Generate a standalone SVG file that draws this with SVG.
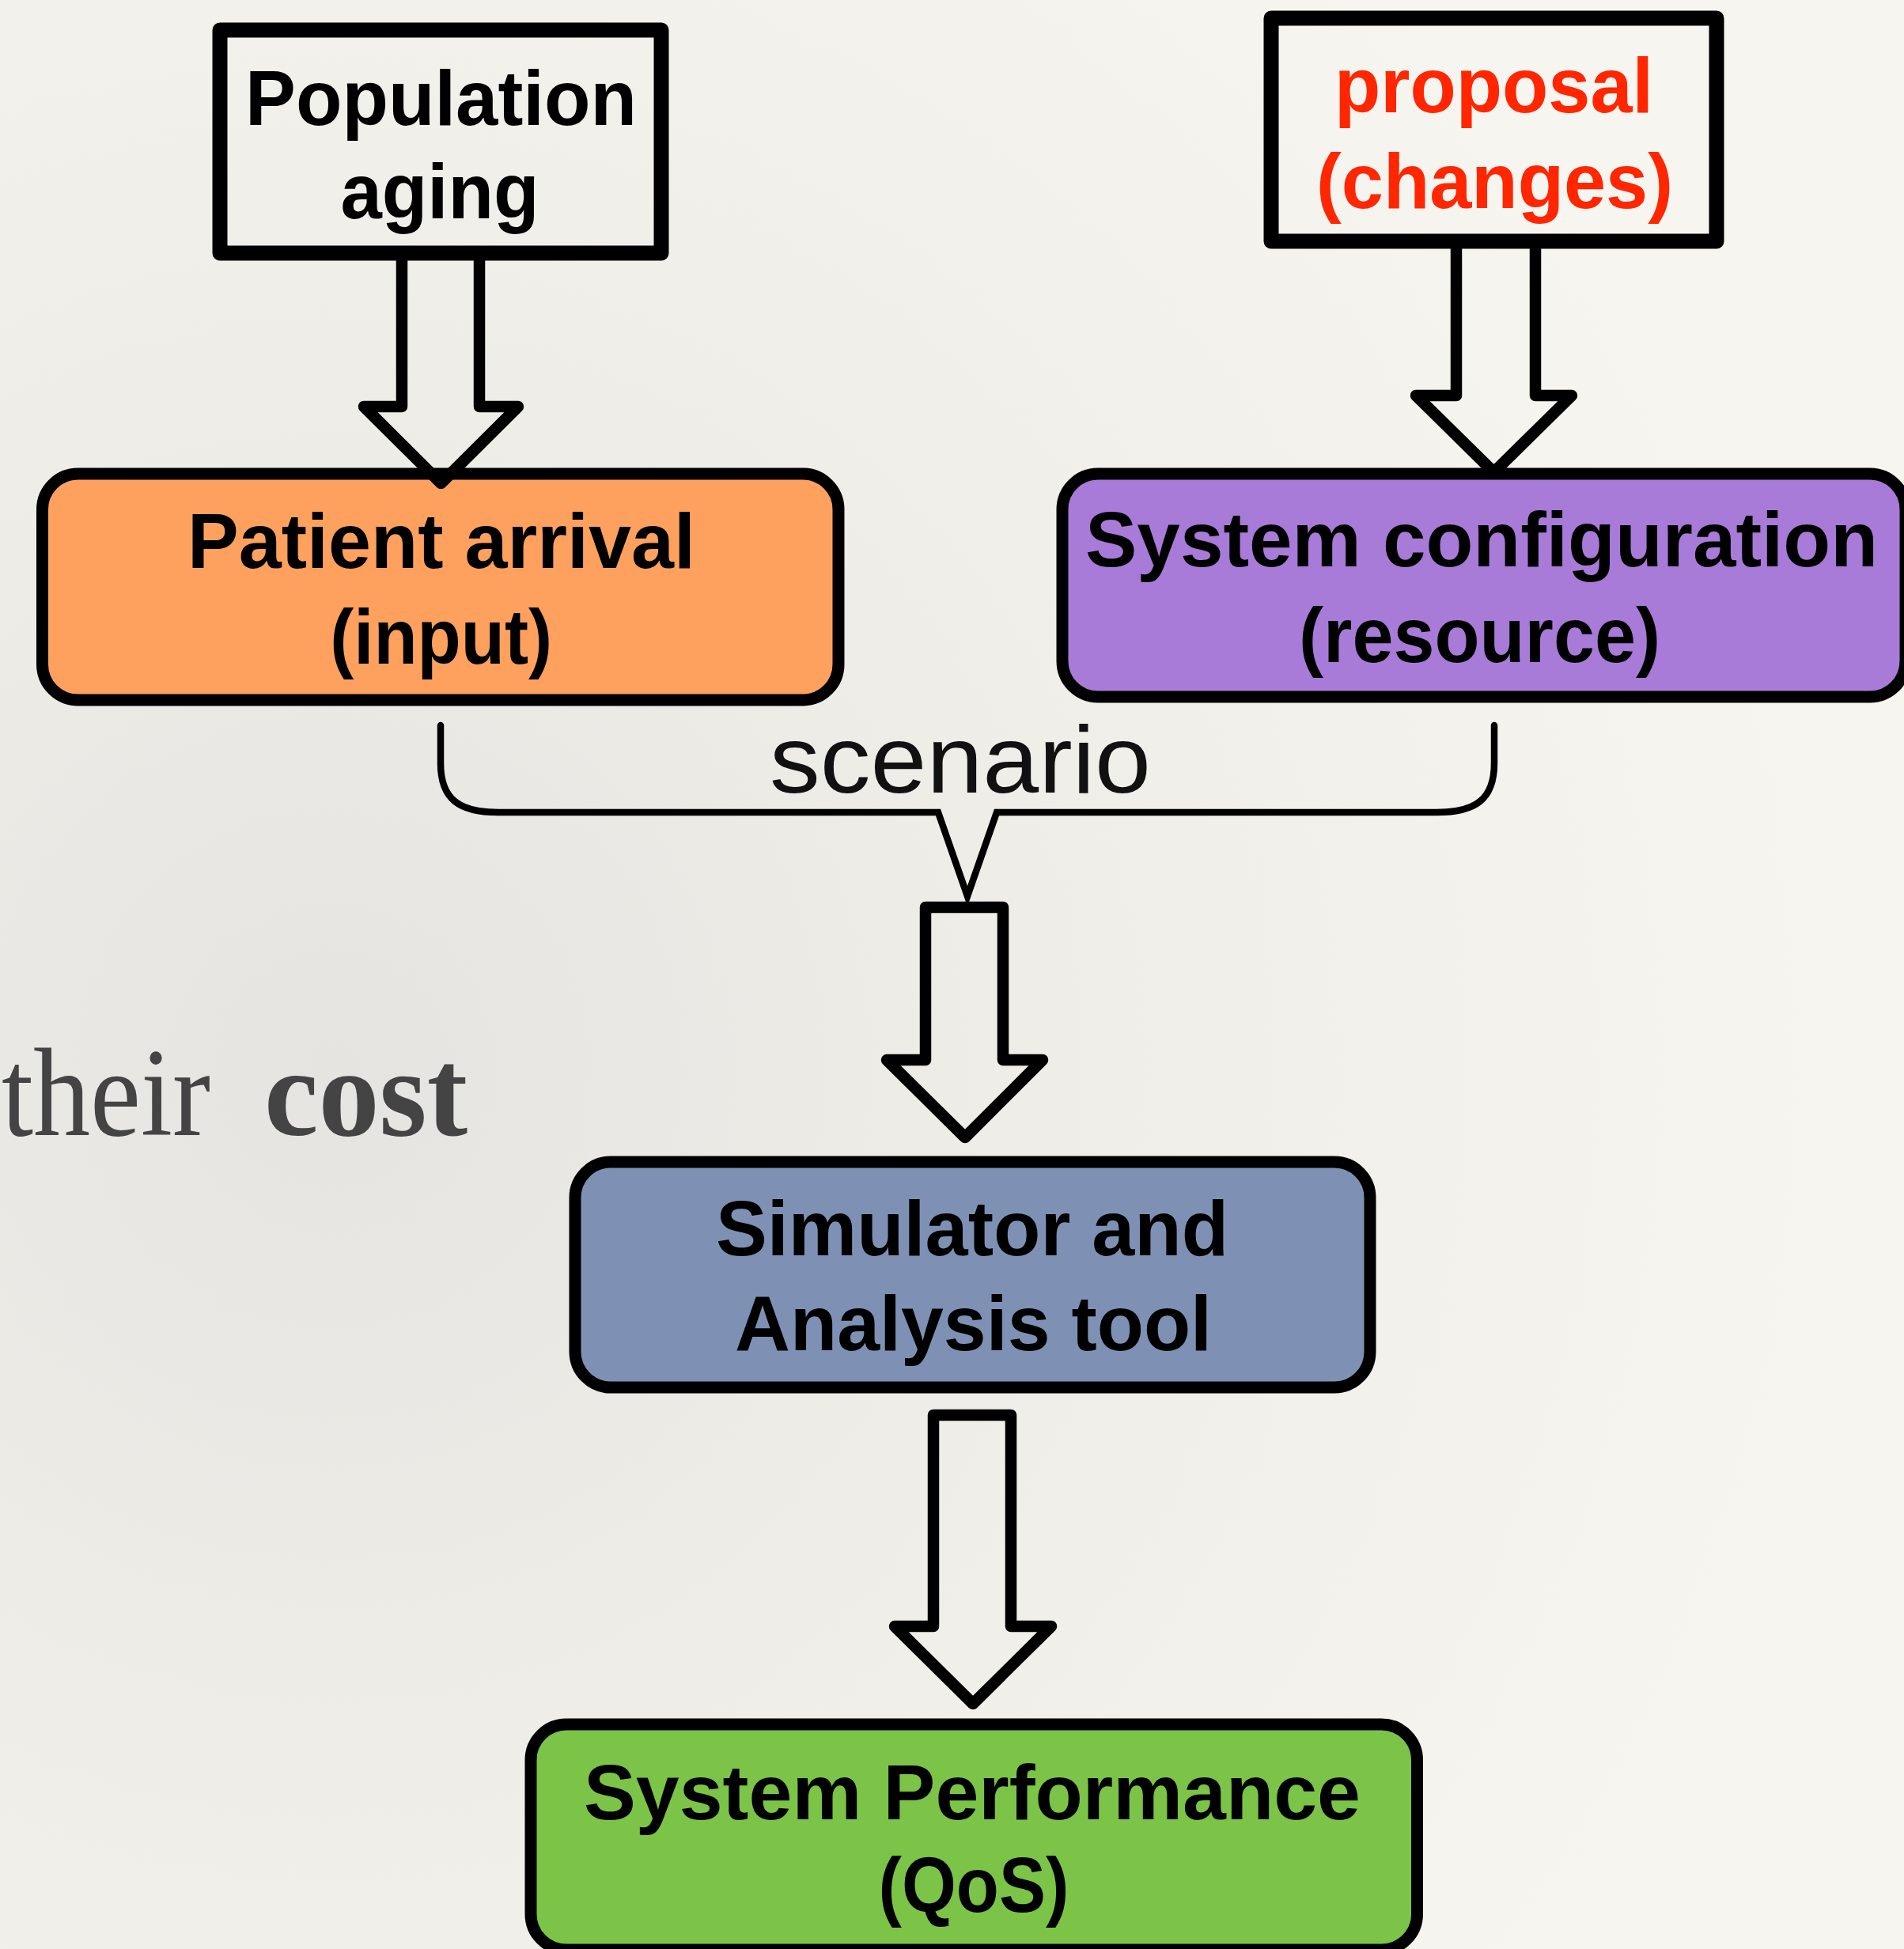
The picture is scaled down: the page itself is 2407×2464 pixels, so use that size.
<svg xmlns="http://www.w3.org/2000/svg" width="2407" height="2464" viewBox="0 0 2407 2464">
  <defs>
    <radialGradient id="paper" cx="420" cy="1350" r="1900" gradientUnits="userSpaceOnUse">
      <stop offset="0" stop-color="#E6E4E0"/>
      <stop offset="0.45" stop-color="#EFEDE8"/>
      <stop offset="1" stop-color="#F7F5EF"/>
    </radialGradient>
    <style>
      .lbl { font-family: "Liberation Sans", Arial, Helvetica, sans-serif; font-weight: bold; font-size: 98px; fill: #000; text-anchor: middle; }
      .red { fill: #FF2600; }
      .plain { fill: none; stroke: #000; stroke-width: 19; stroke-linejoin: round; }
      .rbox { stroke: #000; stroke-width: 15; }
      .arrow { fill: none; stroke: #000; stroke-width: 14.5; stroke-linejoin: round; stroke-linecap: round; }
      .brace { fill: none; stroke: #000; stroke-width: 8.5; stroke-linejoin: miter; stroke-linecap: round; }
      .scen { font-family: "Liberation Sans", Arial, Helvetica, sans-serif; font-size: 120px; fill: #111; text-anchor: middle; }
      .bg { font-family: "Liberation Serif", "Times New Roman", serif; font-size: 158px; fill: #444; }
    </style>
  </defs>

  <rect x="0" y="0" width="2407" height="2464" fill="url(#paper)"/>

  <!-- background slide text -->
  <text class="bg" x="2" y="1435" textLength="264" lengthAdjust="spacingAndGlyphs">their</text>
  <text class="bg" x="334" y="1435" font-weight="bold" textLength="257" lengthAdjust="spacingAndGlyphs">cost</text>

  <g id="node-population">
    <rect class="plain" x="278" y="38" width="558" height="282"/>
    <text class="lbl" x="557.5" y="157.5" textLength="495" lengthAdjust="spacingAndGlyphs">Population</text>
    <text class="lbl" x="556" y="276" textLength="251" lengthAdjust="spacingAndGlyphs">aging</text>
  </g>

  <g id="node-proposal">
    <rect class="plain" x="1607" y="23" width="563" height="282"/>
    <text class="lbl red" x="1888.5" y="142" textLength="403" lengthAdjust="spacingAndGlyphs">proposal</text>
    <text class="lbl red" x="1889.5" y="263" textLength="451" lengthAdjust="spacingAndGlyphs">(changes)</text>
  </g>

  <g id="node-patient">
    <rect class="rbox" x="53.5" y="599" width="1006.5" height="286" rx="45" ry="45" fill="#FFA15E"/>
    <text class="lbl" x="558" y="718" textLength="642" lengthAdjust="spacingAndGlyphs">Patient arrival</text>
    <text class="lbl" x="557.7" y="839" textLength="281" lengthAdjust="spacingAndGlyphs">(input)</text>
  </g>

  <g id="node-config">
    <rect class="rbox" x="1343" y="599" width="1066" height="282" rx="45" ry="45" fill="#A77BD7"/>
    <text class="lbl" x="1873" y="716" textLength="1002" lengthAdjust="spacingAndGlyphs">System configuration</text>
    <text class="lbl" x="1870.5" y="837" textLength="457" lengthAdjust="spacingAndGlyphs">(resource)</text>
  </g>

  <g id="node-simulator">
    <rect class="rbox" x="727" y="1469" width="1005" height="285" rx="45" ry="45" fill="#7E91B5"/>
    <text class="lbl" x="1229" y="1587" textLength="648" lengthAdjust="spacingAndGlyphs">Simulator and</text>
    <text class="lbl" x="1230.5" y="1707" textLength="603" lengthAdjust="spacingAndGlyphs">Analysis tool</text>
  </g>

  <g id="node-performance">
    <rect class="rbox" x="671" y="2180" width="1120.5" height="285" rx="45" ry="45" fill="#7BC447"/>
    <text class="lbl" x="1229" y="2300" textLength="982" lengthAdjust="spacingAndGlyphs">System Performance</text>
    <text class="lbl" x="1231" y="2417" textLength="241" lengthAdjust="spacingAndGlyphs">(QoS)</text>
  </g>

  <g id="connectors">
    <path class="arrow" d="M508,322 V514 H460 L557.5,611 L655,514 H606 V322"/>
    <path class="arrow" d="M1841,307 V500 H1790 L1888.5,597 L1987,500 H1941 V307"/>
    <path class="brace" d="M557,917 V965 C557,1010 580,1027 630,1027 H1186 L1223,1133 L1260,1027 H1816 C1866,1027 1889,1010 1889,965 V917"/>
    <text class="scen" x="1214" y="1002" textLength="482" lengthAdjust="spacingAndGlyphs">scenario</text>
    <path class="arrow" d="M1170,1147 H1268 V1340 H1318 L1220,1438 L1121,1340 H1170 Z"/>
    <path class="arrow" d="M1180,1789 H1278 V2056 H1329 L1230,2154 L1131,2056 H1180 Z"/>
  </g>
</svg>
